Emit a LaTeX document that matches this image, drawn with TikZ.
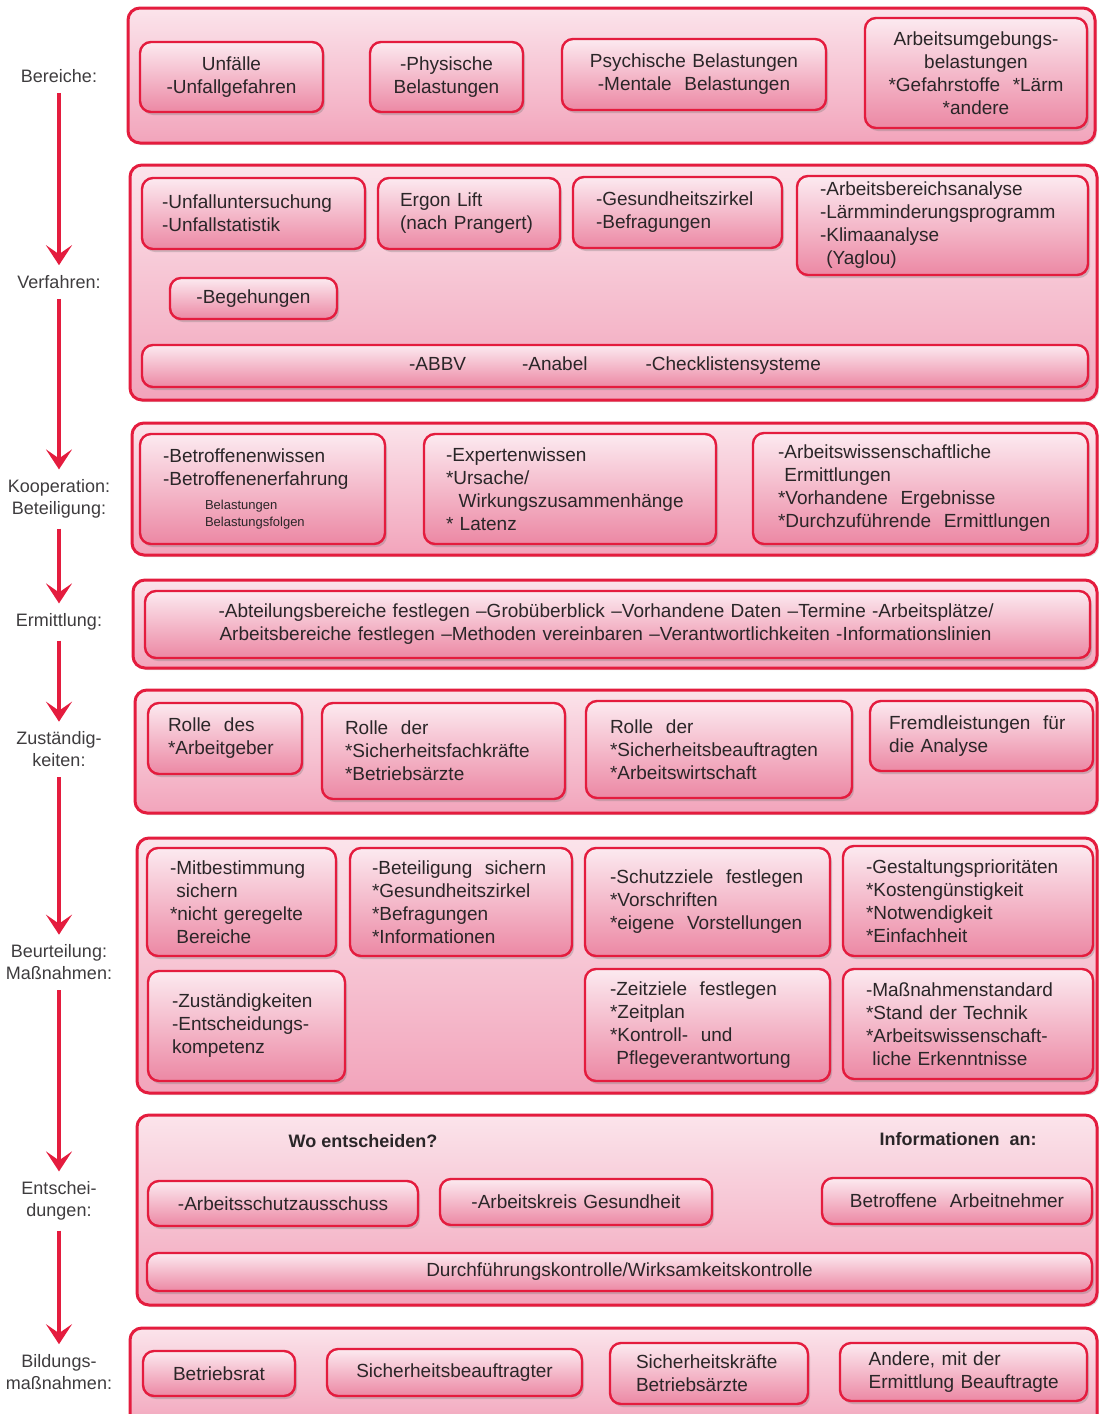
\documentclass[tikz,border=0pt]{standalone}
\usepackage{fontspec}
\setmainfont{Liberation Sans}
\usetikzlibrary{arrows.meta,shadows}

\definecolor{rimred}{RGB}{228,28,62}
\definecolor{outtop}{RGB}{251,228,235}
\definecolor{outbot}{RGB}{242,164,187}
\definecolor{boxtop}{RGB}{252,234,240}
\definecolor{boxmid}{RGB}{247,205,218}
\definecolor{boxbot}{RGB}{236,136,164}
\definecolor{ink}{RGB}{42,38,40}
\definecolor{labink}{RGB}{62,60,62}

\tikzset{
  stage/.style={rounded corners=12pt, draw=rimred, line width=3pt,
    top color=outtop, bottom color=outbot,
    drop shadow={shadow xshift=2pt, shadow yshift=-2pt, opacity=.25, fill=black!50}},
  item/.style={rounded corners=11pt, draw=rimred, line width=2.4pt,
    top color=boxtop, middle color=boxmid, bottom color=boxbot,
    drop shadow={shadow xshift=2pt, shadow yshift=-3pt, opacity=.3, fill=black!55},
    text=ink, inner xsep=21pt, inner ysep=0pt,
    font=\fontsize{19}{23}\selectfont},
  lefttxt/.style={item, align=left},
  midtxt/.style={item, align=center},
  phase/.style={text=labink, align=center, inner sep=6pt,
    font=\fontsize{18}{22}\selectfont},
  headline/.style={text=ink, font=\fontsize{18}{22}\selectfont\bfseries},
  flow/.style={draw=rimred, line width=4.5pt, shorten <=4pt, shorten >=4pt,
    -{Stealth[length=20pt,width=26pt,inset=9pt]}}
}

\begin{document}
\begin{tikzpicture}[x=1pt,y=-1pt]
\useasboundingbox (0,0) rectangle (1098,1414);

% stages
\node[stage, minimum width=967pt, minimum height=135pt] (bereiche) at (611.5,75.5) {};
\node[stage, minimum width=967pt, minimum height=235pt] (verfahren) at (613.5,282.5) {};
\node[stage, minimum width=965pt, minimum height=132pt] (koop) at (614.5,489) {};
\node[stage, minimum width=964pt, minimum height=88pt] (ermitt) at (615,624) {};
\node[stage, minimum width=962pt, minimum height=123pt] (zust) at (616,751.5) {};
\node[stage, minimum width=960pt, minimum height=255pt] (beurt) at (617,965.5) {};
\node[stage, minimum width=960pt, minimum height=190pt] (entsch) at (617,1210) {};
\node[stage, minimum width=967pt, minimum height=100pt] (bildung) at (613.5,1378) {};

% Bereiche
\node[midtxt, text width=141pt, minimum height=70pt] (unfall) at (231.5,77) {Unfälle\\-Unfallgefahren};
\node[midtxt, text width=111pt, minimum height=70pt] (physisch) at (446.5,77) {-Physische\\Belastungen};
\node[midtxt, text width=222pt, minimum height=71pt] (psychisch) at (694,74.5) {Psychische Belastungen\\-Mentale\ \ Belastungen};
\node[midtxt, inner xsep=10pt, text width=202pt, minimum height=110pt] (umgebung) at (976,73) {Arbeitsumgebungs-\\belastungen\\{}*Gefahrstoffe\ \ *Lärm\\{}*andere};

% Verfahren
\node[lefttxt, inner xsep=20pt, text width=183pt, minimum height=71pt] (unfallunt) at (253.5,213.5) {-Unfalluntersuchung\\-Unfallstatistik};
\node[lefttxt, inner xsep=22pt, text width=138pt, minimum height=71pt] (ergon) at (469,213.5) {Ergon Lift\\(nach Prangert)};
\node[lefttxt, inner xsep=23pt, text width=163pt, minimum height=71pt] (zirkel) at (677.5,212.5) {-Gesundheitszirkel\\-Befragungen};
\node[lefttxt, inner xsep=23pt, text width=245pt, minimum height=99pt] (analyse) at (942.5,225.5) {-Arbeitsbereichsanalyse\\-Lärmminderungsprogramm\\-Klimaanalyse\\\ (Yaglou)};
\node[midtxt, inner xsep=10pt, text width=147pt, minimum height=41pt] (begehung) at (253.5,298.5) {-Begehungen};
\node[midtxt, inner xsep=10pt, text width=926pt, minimum height=42pt] (checkl) at (615,366) {-ABBV\hspace*{56pt}-Anabel\hspace*{58pt}-Checklistensysteme};

% Kooperation
\node[lefttxt, inner xsep=23pt, text width=199pt, minimum height=110pt] (betroffen) at (262.5,489) {-Betroffenenwissen\\-Betroffenenerfahrung\\[1pt]{\fontsize{13}{17}\selectfont\hspace*{42pt}Belastungen}\\[-6pt]{\fontsize{13}{17}\selectfont\hspace*{42pt}Belastungsfolgen}};
\node[lefttxt, inner xsep=22pt, text width=248pt, minimum height=110pt] (experten) at (570,489) {-Expertenwissen\\{}*Ursache/\\\ \ Wirkungszusammenhänge\\{}* Latenz};
\node[lefttxt, inner xsep=25pt, text width=285pt, minimum height=111pt] (arbwiss) at (920.5,488.5) {-Arbeitswissenschaftliche\\\ Ermittlungen\\{}*Vorhandene\ \ Ergebnisse\\{}*Durchzuführende\ \ Ermittlungen};

% Ermittlung
\node[midtxt, inner xsep=10pt, text width=925pt, minimum height=67pt] (festlegen) at (617.5,624.5) {\makebox[798pt][s]{-Abteilungsbereiche festlegen –Grobüberblick –Vorhandene Daten –Termine -Arbeitsplätze/}\\\makebox[796pt][s]{Arbeitsbereiche festlegen –Methoden vereinbaren –Verantwortlichkeiten -Informationslinien}};

% Zustaendigkeiten
\node[lefttxt, inner xsep=20pt, text width=114pt, minimum height=71pt] (arbgeber) at (225,738.5) {Rolle\ \ des\\{}*Arbeitgeber};
\node[lefttxt, inner xsep=23pt, text width=197pt, minimum height=96pt] (sifa) at (443.5,751) {Rolle\ \ der\\{}*Sicherheitsfachkräfte\\{}*Betriebsärzte};
\node[lefttxt, inner xsep=24pt, text width=218pt, minimum height=97pt] (sibe) at (719,749.5) {Rolle\ \ der\\{}*Sicherheitsbeauftragten\\{}*Arbeitswirtschaft};
\node[lefttxt, inner xsep=19pt, text width=185pt, minimum height=70pt] (fremd) at (981.5,736) {Fremdleistungen\ \ für\\die Analyse};

% Beurteilung / Massnahmen
\node[lefttxt, inner xsep=23pt, text width=143pt, minimum height=108pt] (mitbest) at (241.5,902) {-Mitbestimmung\\\ sichern\\{}*nicht geregelte\\\ Bereiche};
\node[lefttxt, inner xsep=22pt, text width=178pt, minimum height=108pt] (beteil) at (461,902) {-Beteiligung\ \ sichern\\{}*Gesundheitszirkel\\{}*Befragungen\\{}*Informationen};
\node[lefttxt, inner xsep=25pt, text width=195pt, minimum height=108pt] (schutz) at (707.5,902) {-Schutzziele\ \ festlegen\\{}*Vorschriften\\{}*eigene\ \ Vorstellungen};
\node[lefttxt, inner xsep=23pt, text width=204pt, minimum height=110pt] (gestalt) at (968,901) {-Gestaltungsprioritäten\\{}*Kostengünstigkeit\\{}*Notwendigkeit\\{}*Einfachheit};
\node[lefttxt, inner xsep=24pt, text width=149pt, minimum height=110pt] (zustkomp) at (246.5,1026) {-Zuständigkeiten\\-Entscheidungs-\\kompetenz};
\node[lefttxt, inner xsep=25pt, text width=195pt, minimum height=112pt] (zeitziel) at (707.5,1025) {-Zeitziele\ \ festlegen\\{}*Zeitplan\\{}*Kontroll-\ \ und\\\ Pflegeverantwortung};
\node[lefttxt, inner xsep=23pt, text width=204pt, minimum height=110pt] (standard) at (968,1024) {-Maßnahmenstandard\\{}*Stand der Technik\\{}*Arbeitswissenschaft-\\\ liche Erkenntnisse};

% Entscheidungen
\node[headline] (wo) at (363,1141) {Wo entscheiden?};
\node[headline] (info) at (958,1139) {Informationen\ \ an:};
\node[midtxt, inner xsep=10pt, text width=250pt, minimum height=45pt] (ausschuss) at (283,1203.5) {-Arbeitsschutzausschuss};
\node[midtxt, inner xsep=10pt, text width=252pt, minimum height=46pt] (arbkreis) at (576,1202) {-Arbeitskreis Gesundheit};
\node[midtxt, inner xsep=10pt, text width=250pt, minimum height=46pt] (arbnehmer) at (957,1201) {Betroffene\ \ Arbeitnehmer};
\node[midtxt, inner xsep=10pt, text width=925pt, minimum height=38pt] (kontrolle) at (619.5,1272) {Durchführungskontrolle/Wirksamkeitskontrolle};

% Bildungsmassnahmen
\node[midtxt, inner xsep=10pt, text width=132pt, minimum height=45pt] (brat) at (219,1373.5) {Betriebsrat};
\node[midtxt, inner xsep=10pt, text width=235pt, minimum height=47pt] (sibeauf) at (454.5,1372.5) {Sicherheitsbeauftragter};
\node[lefttxt, inner xsep=26pt, text width=146pt, minimum height=61pt] (sikraft) at (709,1373.5) {Sicherheitskräfte\\Betriebsärzte};
\node[lefttxt, inner xsep=16pt, text width=215pt, minimum height=58pt] (andere) at (963.5,1372) {\ \ Andere,\ mit der\\\ \ Ermittlung\ Beauftragte};

% phases on the left
\node[phase] (pBer) at (59,76) {Bereiche:};
\node[phase] (pVer) at (59,282) {Verfahren:};
\node[phase] (pKoo) at (59,499) {Kooperation:\\Beteiligung:};
\node[phase] (pErm) at (59,622) {Ermittlung:};
\node[phase] (pZus) at (59,749.5) {Zuständig-\\keiten:};
\node[phase] (pBeu) at (59,962.5) {Beurteilung:\\Maßnahmen:};
\node[phase] (pEnt) at (59,1201) {Entschei-\\dungen:};
\node[phase] (pBil) at (59,1372) {Bildungs-\\maßnahmen:};

\draw[flow] (pBer) -- (pVer);
\draw[flow] (pVer) -- (pKoo);
\draw[flow] (pKoo) -- (pErm);
\draw[flow] (pErm) -- (pZus);
\draw[flow] (pZus) -- (pBeu);
\draw[flow] (pBeu) -- (pEnt);
\draw[flow] (pEnt) -- (pBil);
\end{tikzpicture}
\end{document}
